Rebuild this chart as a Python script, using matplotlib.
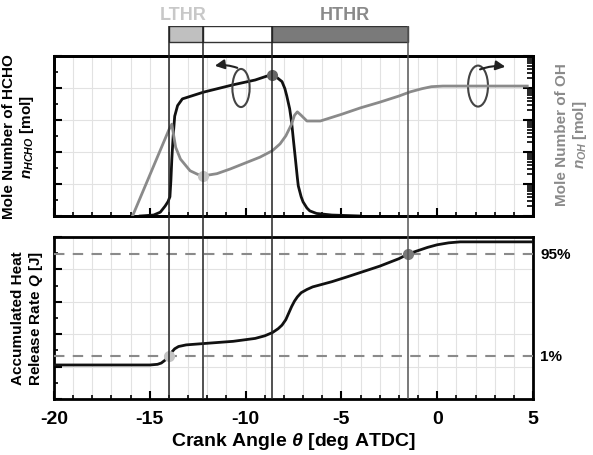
import matplotlib
matplotlib.use("Agg")
import matplotlib.pyplot as plt
from matplotlib.patches import Ellipse
from matplotlib.ticker import MultipleLocator, NullFormatter
import numpy as np

plt.rcParams['font.family'] = ['Liberation Sans', 'DejaVu Sans']
plt.rcParams['font.weight'] = 'bold'
plt.rcParams['axes.unicode_minus'] = False
plt.rcParams['mathtext.fontset'] = 'custom'
plt.rcParams['mathtext.it'] = 'Liberation Sans:italic:bold'
plt.rcParams['mathtext.rm'] = 'Liberation Sans:bold'

# HCHO mole number (left axis, arbitrary linear units)
hcho_x = [-15.5, -14.8, -14.45, -14.2, -14.05, -13.95, -13.9, -13.85, -13.78, -13.7,
          -13.55, -13.3, -12.2, -10.65, -9.5, -8.9, -8.6, -8.35, -8.1, -7.95, -7.85,
          -7.7, -7.6, -7.5, -7.4, -7.3, -7.25, -7.1, -7.0, -6.8, -6.65, -6.3, -5.5, -4.0]
hcho_y = [0.0, 0.03, 0.12, 0.31, 0.45, 0.6, 1.1, 1.78, 2.5, 3.12,
          3.45, 3.66, 3.87, 4.1, 4.25, 4.37, 4.4, 4.32, 4.2, 3.98, 3.75,
          3.35, 2.94, 2.35, 1.78, 1.2, 0.94, 0.6, 0.44, 0.25, 0.16, 0.08, 0.03, 0.0]

# OH mole number (right axis, log) [mol]
oh_x = [-15.9, -14.0, -13.85, -13.75, -13.65, -13.4, -12.9, -12.5, -12.2, -11.5,
        -10.8, -9.25, -8.6, -8.2, -7.9, -7.6, -7.45, -7.3, -7.1, -6.8, -6.1,
        -5.0, -4.0, -3.0, -2.0, -1.4, -0.8, -0.3, 0.3, 4.7]
oh_y = [1.0e-10, 5.0e-8, 7.4e-8, 3.2e-8, 1.4e-8, 6.0e-9, 2.6e-9, 2.0e-9, 1.8e-9, 2.1e-9,
        2.95e-9, 6.9e-9, 1.1e-8, 1.8e-8, 3.2e-8, 7.4e-8, 1.4e-7, 1.8e-7, 1.4e-7, 9.3e-8, 9.3e-8,
        1.5e-7, 2.4e-7, 3.6e-7, 5.6e-7, 7.6e-7, 9.5e-7, 1.1e-6, 1.15e-6, 1.15e-6]

# accumulated heat release Q (arbitrary linear units)
q_x = [-20, -15.0, -14.6, -14.4, -14.2, -14.0, -13.85, -13.7, -13.5, -13.1, -12.0, -10.65,
       -9.5, -9.0, -8.6, -8.3, -8.1, -7.9, -7.75, -7.6, -7.45, -7.3, -7.1, -6.8, -6.5,
       -5.5, -4.7, -3.0, -2.0, -1.5, -1.0, -0.5, 0.0, 0.6, 1.2, 5.0]
q_y = [1.05, 1.05, 1.07, 1.11, 1.2, 1.33, 1.45, 1.55, 1.62, 1.67, 1.72, 1.78,
       1.87, 1.95, 2.05, 2.17, 2.28, 2.45, 2.65, 2.85, 3.02, 3.15, 3.28, 3.38, 3.46,
       3.62, 3.77, 4.1, 4.33, 4.48, 4.58, 4.68, 4.76, 4.82, 4.85, 4.85]
q_1pct = 1.33
q_95pct = 4.48

# timing markers
t_lthr_start = -14.0
t_lthr_end = -12.2
t_hthr_start = -8.6
t_hthr_end = -1.5

W, H = 593, 456
fig = plt.figure(figsize=(W / 100, H / 100), dpi=100)

def box(x0, y0, x1, y1):
    return [x0 / W, 1 - y1 / H, (x1 - x0) / W, (y1 - y0) / H]

ax1 = fig.add_axes(box(54, 57, 533, 217))
ax2 = fig.add_axes(box(54, 238, 533, 400))

for ax in (ax1, ax2):
    ax.set_xlim(-20, 5)
    ax.set_ylim(0, 5)
    ax.xaxis.set_major_locator(MultipleLocator(5))
    ax.xaxis.set_minor_locator(MultipleLocator(1))
    ax.yaxis.set_major_locator(MultipleLocator(1))
    ax.yaxis.set_minor_locator(MultipleLocator(0.5))
    ax.tick_params(which='major', direction='in', length=6, width=1.5, top=False, right=False)
    ax.tick_params(which='minor', direction='in', length=3, width=1.2, top=False, right=False)
    ax.set_yticklabels([])
    ax.grid(True, which='minor', axis='x', color='#e2e2e2', lw=0.8)
    ax.grid(True, which='major', color='#e2e2e2', lw=0.8)
    for s in ax.spines.values():
        s.set_linewidth(2)
    ax.set_axisbelow(True)

ax1.set_xticklabels([])
ax2.tick_params(axis='x', labelsize=14, pad=8)
for lab in ax2.get_xticklabels():
    lab.set_fontweight('bold')

# top panel curves
ax1.plot(hcho_x, hcho_y, color='#111111', lw=2, zorder=4)
ax1.plot([t_hthr_start], [np.interp(t_hthr_start, hcho_x, hcho_y)], 'o', ms=7,
         color='#666666', zorder=5)

axr = ax1.twinx()
axr.set_yscale('log')
axr.set_ylim(1e-10, 1e-5)
axr.plot(oh_x, oh_y, color='#8a8a8a', lw=2, zorder=3)
axr.plot([t_lthr_end], [np.exp(np.interp(t_lthr_end, oh_x, np.log(oh_y)))], 'o', ms=7,
         color='#c4c4c4', zorder=5)
decades = [10.0 ** k for k in range(-10, -4)]
axr.set_yticks(decades)
axr.set_yticks([m * d for d in decades[:-1] for m in range(2, 10)], minor=True)
axr.yaxis.set_major_formatter(NullFormatter())
axr.yaxis.set_minor_formatter(NullFormatter())
axr.tick_params(which='major', direction='in', length=7, width=1.5, right=True)
axr.tick_params(which='minor', direction='in', length=4, width=1.2, right=True)
for s in axr.spines.values():
    s.set_linewidth(2)

# ellipse + arrow annotations
ax1.add_patch(Ellipse((-10.24, 4.0), 0.9, 1.19, fill=False, ec='#444444', lw=1.5, zorder=6))
ax1.annotate('', xy=(-11.75, 4.68), xytext=(-10.3, 4.6),
             arrowprops=dict(arrowstyle='-|>', color='#222222', lw=1.5,
                             connectionstyle='arc3,rad=0.15', mutation_scale=14), zorder=6)
ax1.add_patch(Ellipse((2.13, 4.06), 1.04, 1.28, fill=False, ec='#444444', lw=1.5, zorder=6))
ax1.annotate('', xy=(3.7, 4.65), xytext=(2.1, 4.55),
             arrowprops=dict(arrowstyle='-|>', color='#222222', lw=1.5,
                             connectionstyle='arc3,rad=-0.15', mutation_scale=14), zorder=6)

# bottom panel
ax2.plot(q_x, q_y, color='#111111', lw=2, zorder=4)
ax2.axhline(q_1pct, color='#8a8a8a', lw=1.5, ls=(0, (5, 4)), zorder=3)
ax2.axhline(q_95pct, color='#8a8a8a', lw=1.5, ls=(0, (5, 4)), zorder=3)
ax2.plot([t_lthr_start], [q_1pct], 'o', ms=7, color='#c4c4c4', zorder=5)
ax2.plot([t_hthr_end], [q_95pct], 'o', ms=7, color='#7a7a7a', zorder=5)
ax2.text(1.015, q_95pct / 5, '95%', transform=ax2.transAxes, fontsize=11,
         fontweight='bold', va='center', ha='left')
ax2.text(1.015, q_1pct / 5, '1%', transform=ax2.transAxes, fontsize=11,
         fontweight='bold', va='center', ha='left')
ax2.set_xlabel(r'Crank Angle $\theta$ [deg ATDC]', fontsize=14, fontweight='bold', labelpad=2)

# timing bar above the plot
axb = fig.add_axes(box(54, 27, 533, 57))
axb.set_xlim(-20, 5)
axb.set_ylim(0, 1)
axb.axis('off')
axb.axvspan(t_lthr_start, t_lthr_end, ymin=0.47, ymax=1, fc='#c0c0c0', ec='#333333', lw=1)
axb.axvspan(t_lthr_end, t_hthr_start, ymin=0.47, ymax=1, fc='white', ec='#333333', lw=1)
axb.axvspan(t_hthr_start, t_hthr_end, ymin=0.47, ymax=1, fc='#7a7a7a', ec='#333333', lw=1)
fig.text(183 / W, 1 - 16 / H, 'LTHR', color='#c8c8c8', fontsize=13, fontweight='bold',
         ha='center', va='center')
fig.text(345 / W, 1 - 16 / H, 'HTHR', color='#8a8a8a', fontsize=13, fontweight='bold',
         ha='center', va='center')

# vertical timing lines through both panels
axl = fig.add_axes(box(54, 27, 533, 400))
axl.set_xlim(-20, 5)
axl.set_ylim(0, 1)
axl.axis('off')
for t, c in [(t_lthr_start, '#222222'), (t_lthr_end, '#222222'),
             (t_hthr_start, '#222222'), (t_hthr_end, '#555555')]:
    axl.axvline(t, color=c, lw=1.1)

# axis labels
fig.text(9 / W, 1 - 137 / H, 'Mole Number of HCHO', rotation=90, fontsize=11,
         fontweight='bold', ha='center', va='center')
fig.text(27 / W, 1 - 137 / H, r'$n_{HCHO}$ [mol]', rotation=90, fontsize=11,
         fontweight='bold', ha='center', va='center')
fig.text(562 / W, 1 - 135 / H, 'Mole Number of OH', rotation=90, fontsize=11,
         fontweight='bold', ha='center', va='center', color='#8a8a8a')
fig.text(580 / W, 1 - 135 / H, r'$n_{OH}$ [mol]', rotation=90, fontsize=11,
         fontweight='bold', ha='center', va='center', color='#8a8a8a')
fig.text(18 / W, 1 - 318 / H, 'Accumulated Heat', rotation=90, fontsize=11,
         fontweight='bold', ha='center', va='center')
fig.text(36 / W, 1 - 318 / H, r'Release Rate $Q$ [J]', rotation=90, fontsize=11,
         fontweight='bold', ha='center', va='center')

fig.savefig('out.png', dpi=100)
